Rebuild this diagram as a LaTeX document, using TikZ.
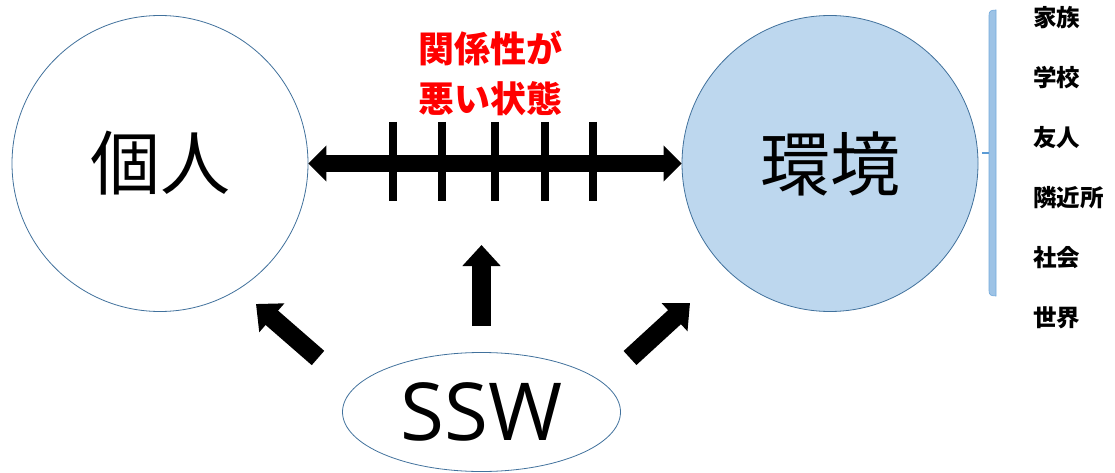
\documentclass[tikz,border=0pt]{standalone}
\usepackage{fontspec}
\setmainfont{Open Sans}
\newfontfamily\cjk{Noto Sans CJK JP}
\usetikzlibrary{arrows.meta,shapes.geometric}
\definecolor{outl}{HTML}{41719C}
\definecolor{envfill}{HTML}{BDD7EE}
\definecolor{bracefill}{HTML}{9DC3E6}
\definecolor{bracetick}{HTML}{5B9BD5}
\tikzset{
  bigcircle/.style={circle, draw=outl, line width=0.8pt, minimum size=296pt, inner sep=0pt, font=\cjk\fontsize{70}{80}\selectfont},
  fatarrow/.style={line width=19pt, -{Triangle[length=21pt,width=37pt]}},
  dblarrow/.style={line width=17pt, {Triangle[length=18pt,width=35pt]}-{Triangle[length=18pt,width=35pt]}},
  tickmark/.style={line width=8pt},
  listitem/.style={anchor=west, inner sep=0pt, font=\cjk\bfseries\fontsize{23.5}{26}\selectfont},
}
\begin{document}
\begin{tikzpicture}[x=1pt,y=-1pt]
\useasboundingbox (0,0) rectangle (1115,473);
\node[bigcircle, fill=white] (kojin) at (160,163.5) {個人};
\node[bigcircle, fill=envfill] (kankyo) at (830,163.5) {環境};
\node[ellipse, draw=outl, line width=0.8pt, minimum width=278pt, minimum height=119pt, inner sep=0pt, font=\fontsize{80}{90}\selectfont] (ssw) at (481.5,412) {SSW};
% red label
\node[text=red, align=center, font=\cjk\bfseries\fontsize{36}{50}\selectfont] (label) at (490,73) {関係性が\\悪い状態};
% double arrow
\draw[dblarrow] (kojin) -- (kankyo);
\foreach \x in {393,442,495,545,593}
  \draw[tickmark] (\x,122) -- (\x,201);
% arrows from SSW
\coordinate (upTail) at (481.5,326);
\coordinate (upTip) at (481.5,245);
\coordinate (lTail) at (318,358);
\coordinate (lTip) at (256,304);
\coordinate (rTail) at (630,358);
\coordinate (rTip) at (690,303);
\draw[fatarrow] (upTail) -- (upTip);
\draw[fatarrow] (lTail) -- (lTip);
\draw[fatarrow] (rTail) -- (rTip);
% brace
\coordinate (braceMid) at (982,153);
\filldraw[fill=bracefill, draw=bracetick!85, line width=0.6pt]
  (996,10) .. controls (991,10) and (989,11) .. (989,15) -- (989,291)
  .. controls (989,295) and (991,296) .. (996,296) -- (996,10) -- cycle;
\draw[bracetick, line width=1.5pt] (braceMid) -- (989,153);
% list
\node[listitem] (i1) at (1033,18) {家族};
\node[listitem] (i2) at (1033,78) {学校};
\node[listitem] (i3) at (1033,138) {友人};
\node[listitem] (i4) at (1033,198) {隣近所};
\node[listitem] (i5) at (1033,258) {社会};
\node[listitem] (i6) at (1033,318) {世界};
\end{tikzpicture}
\end{document}
